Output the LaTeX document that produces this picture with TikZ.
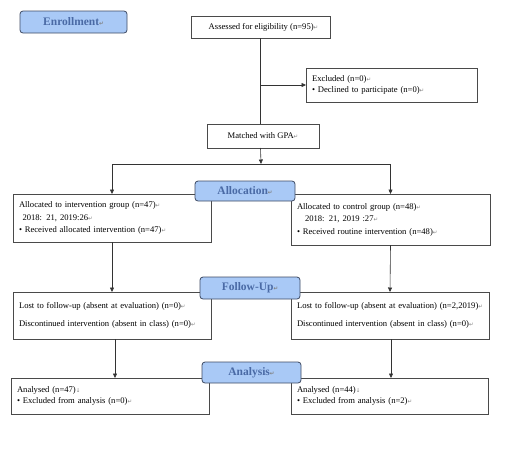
\documentclass[tikz,border=0pt]{standalone}
\usepackage{fontspec}
\setmainfont{Liberation Serif}
\newfontfamily\symf{DejaVu Sans}
\usetikzlibrary{arrows.meta}
\definecolor{lblfill}{HTML}{A9C9F6}
\definecolor{lbltext}{HTML}{4A6AA5}
\definecolor{lbldraw}{HTML}{3E4A63}
\definecolor{boxdraw}{HTML}{4A4A4A}
\newcommand{\retm}{{\symf\fontsize{5.5}{5}\selectfont\color{gray}↵}}
\newcommand{\brkm}{{\symf\fontsize{5.5}{5}\selectfont\color{gray}↓}}
\tikzset{
  box/.style={draw=boxdraw, line width=0.7pt, rectangle, inner xsep=6pt, inner ysep=0pt, outer sep=0pt,
    font=\fontsize{8.6}{12.5}\selectfont, align=left},
  cbox/.style={draw=boxdraw, line width=0.7pt, rectangle, inner sep=0pt, outer sep=0pt,
    font=\fontsize{8.6}{12.5}\selectfont, align=center},
  stage/.style={draw=lbldraw, line width=0.8pt, fill=lblfill, rounded corners=3pt, inner sep=0pt,
    text=lbltext, font=\fontsize{11.5}{12}\selectfont\bfseries},
  conn/.style={draw=black!80, line width=0.6pt},
  arr/.style={conn, -{Triangle[length=4.5pt,width=4pt]}}
}
\begin{document}
\begin{tikzpicture}[x=1pt,y=-1pt]
\useasboundingbox (0,0) rectangle (505,448);

% boxes
\node[cbox, minimum width=139pt, minimum height=22pt] (assess) at (260.5,27) {\hspace*{6pt}Assessed for eligibility (n=95)\retm};
\node[box, minimum width=171pt, minimum height=34pt, text width=159pt,
      font=\fontsize{8.6}{11}\selectfont] (excl) at (391.5,85)
  {Excluded (n=0)\retm\\ \textbullet\ Declined to participate (n=0)\retm};
\node[cbox, minimum width=112pt, minimum height=24pt] (match) at (263,136) {Matched with GPA\retm};

\node[box, minimum width=198pt, minimum height=48pt, text width=186pt] (allocL) at (112,218)
  {Allocated to intervention group (n=47)\retm\\ \hspace*{3.5pt}2018: 21, 2019:26\retm\\ \textbullet\ Received allocated intervention (n=47)\retm};
\node[box, minimum width=199pt, minimum height=51pt, text width=187pt] (allocR) at (390.5,219.5)
  {Allocated to control group (n=48)\retm\\ \hspace*{8pt}2018: 21, 2019 :27\retm\\ \textbullet\ Received routine intervention (n=48)\retm};

\node[box, minimum width=198pt, minimum height=47pt, text width=186pt,
      font=\fontsize{8.6}{18}\selectfont] (fuL) at (112,315.5)
  {Lost to follow-up (absent at evaluation) (n=0)\retm\\ Discontinued intervention (absent in class) (n=0)\retm};
\node[box, minimum width=198pt, minimum height=47pt, text width=186pt,
      font=\fontsize{8.6}{18}\selectfont] (fuR) at (390,315.5)
  {Lost to follow-up (absent at evaluation) (n=2,2019)\retm\\ Discontinued intervention (absent in class) (n=0)\retm};

\node[box, minimum width=198pt, minimum height=36pt, text width=186pt,
      font=\fontsize{8.6}{11}\selectfont] (anL) at (110,396)
  {Analysed (n=47)\brkm\\ \textbullet\ Excluded from analysis (n=0)\retm};
\node[box, minimum width=197pt, minimum height=36pt, text width=185pt,
      font=\fontsize{8.6}{11}\selectfont] (anR) at (389.5,396)
  {Analysed (n=44)\brkm\\ \textbullet\ Excluded from analysis (n=2)\retm};

% connectors
\coordinate (split) at (261,164);
\coordinate (splitL) at (allocL.north |- split);
\coordinate (splitR) at (allocR.north |- split);
\draw[conn] (assess.south) -- (assess.south |- match.north);
\draw[arr] (assess.south |- excl.west) -- (excl.west);
\draw[arr] (assess.south |- match.south) -- (split);
\draw[conn] (splitL) -- (splitR);
\draw[arr] (splitL) -- (allocL.north);
\draw[arr] (splitR) -- (allocR.north);
\draw[arr] (allocL.south) -- (fuL.north);
\draw[arr] (allocR.south) -- (fuR.north);
\draw[arr] ([xshift=3pt]fuL.south) -- ([xshift=3pt]fuL.south |- anL.north);
\draw[arr] ([xshift=1pt]fuR.south) -- ([xshift=1pt]fuR.south |- anR.north);

% stage labels
\node[stage, minimum width=107pt, minimum height=22pt] (enr) at (73.5,22) {Enrollment\retm};
\node[stage, minimum width=100pt, minimum height=20pt] (alloc) at (245,191) {Allocation\retm};
\node[stage, minimum width=100pt, minimum height=22pt] (fu) at (250,288) {Follow-Up\retm};
\node[stage, minimum width=99pt, minimum height=21pt] (an) at (251.5,372.5) {Analysis\retm};
\end{tikzpicture}
\end{document}
